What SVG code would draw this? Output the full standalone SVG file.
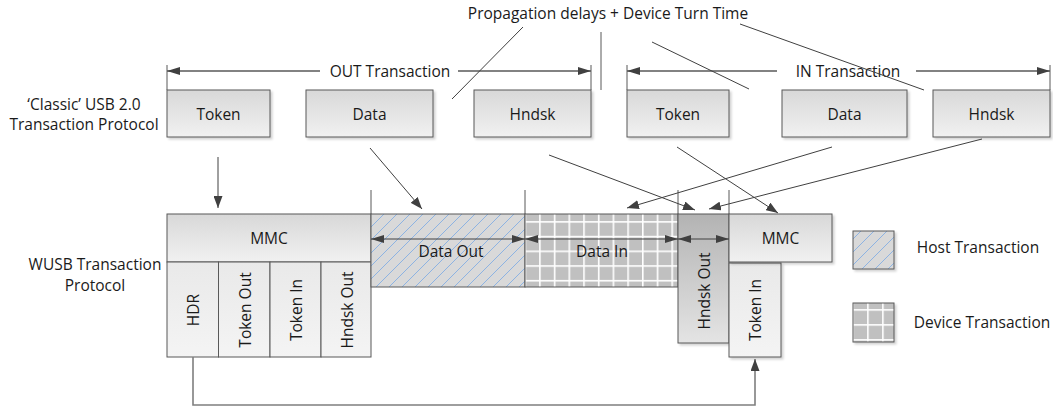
<svg xmlns="http://www.w3.org/2000/svg" width="1053" height="409" viewBox="0 0 1053 409">
<style>
  text { font-family: "Open Sans", "Liberation Sans", sans-serif; font-size: 15.5px; fill: #1a1a1a; }
  .c { text-anchor: middle; dominant-baseline: central; }
  .box { stroke: #595959; stroke-width: 1; }
  .top { fill: url(#gTop); }
  .cell { fill: url(#gCell); }
  .ln { stroke: #404040; stroke-width: 1; fill: none; }
  .dim { stroke: #595959; stroke-width: 1.3; fill: none; }
  .tick { stroke: #595959; stroke-width: 1; fill: none; }
  .arr { marker-end: url(#ah); }
  .dbl { marker-start: url(#ahs); marker-end: url(#ahs); }
</style>
<defs>
  <linearGradient id="gTop" x1="0" y1="0" x2="0" y2="1">
    <stop offset="0" stop-color="#d8d8d8"/>
    <stop offset="1" stop-color="#f1f1f1"/>
  </linearGradient>
  <linearGradient id="gCell" x1="0" y1="0" x2="0" y2="1">
    <stop offset="0" stop-color="#e9e9e9"/>
    <stop offset="1" stop-color="#f4f4f4"/>
  </linearGradient>
  <linearGradient id="gDark" x1="0" y1="0" x2="0" y2="1">
    <stop offset="0" stop-color="#b3b3b3"/>
    <stop offset="1" stop-color="#e4e4e4"/>
  </linearGradient>
  <pattern id="hatch" patternUnits="userSpaceOnUse" width="13" height="13">
    <rect width="13" height="13" fill="#d9d9d9"/>
    <path d="M0,13 L13,0 M-3,3 L3,-3 M10,16 L16,10" stroke="#8db3e2" stroke-width="1"/>
  </pattern>
  <pattern id="grid" patternUnits="userSpaceOnUse" x="539.1" y="221.1" width="14.7" height="14.7">
    <rect width="14.7" height="14.7" fill="#c0c0c0"/>
    <rect x="0" y="0" width="1.6" height="14.7" fill="#ffffff"/>
    <rect x="0" y="0" width="14.7" height="1.6" fill="#ffffff"/>
  </pattern>
  <pattern id="grid2" patternUnits="userSpaceOnUse" x="867.1" y="309.1" width="15" height="15">
    <rect width="15" height="15" fill="#c0c0c0"/>
    <rect x="0" y="0" width="1.6" height="15" fill="#ffffff"/>
    <rect x="0" y="0" width="15" height="1.6" fill="#ffffff"/>
  </pattern>
  <marker id="ah" markerUnits="userSpaceOnUse" markerWidth="12" markerHeight="9" viewBox="0 0 12 9" refX="12" refY="4.5" orient="auto">
    <path d="M0,0 L12,4.5 L0,9 z" fill="#404040"/>
  </marker>
  <marker id="ahs" markerUnits="userSpaceOnUse" markerWidth="13" markerHeight="8" viewBox="0 0 13 8" refX="13" refY="4" orient="auto-start-reverse">
    <path d="M0,0 L13,4 L0,8 z" fill="#404040"/>
  </marker>
  <filter id="sh" x="-10%" y="-10%" width="130%" height="130%">
    <feDropShadow dx="2" dy="2" stdDeviation="0.8" flood-color="#000" flood-opacity="0.18"/>
  </filter>
</defs>

<!-- labels -->
<g id="label-classic">
  <text class="c" x="84" y="104">‘Classic’ USB 2.0</text>
  <text class="c" x="84" y="124">Transaction Protocol</text>
</g>
<g id="label-wusb">
  <text class="c" x="95" y="264">WUSB Transaction</text>
  <text class="c" x="95" y="285">Protocol</text>
</g>
<g id="label-prop">
  <text class="c" x="608" y="13">Propagation delays + Device Turn Time</text>
</g>

<!-- top row -->
<g id="out-token"><rect class="box top" filter="url(#sh)" x="167" y="90" width="103" height="47"/><text class="c" x="218.5" y="113.5">Token</text></g>
<g id="out-data"><rect class="box top" filter="url(#sh)" x="306" y="90" width="127" height="47"/><text class="c" x="369.5" y="113.5">Data</text></g>
<g id="out-hndsk"><rect class="box top" filter="url(#sh)" x="474" y="90" width="117" height="47"/><text class="c" x="532.5" y="113.5">Hndsk</text></g>
<g id="in-token"><rect class="box top" filter="url(#sh)" x="627" y="90" width="102" height="47"/><text class="c" x="678" y="113.5">Token</text></g>
<g id="in-data"><rect class="box top" filter="url(#sh)" x="782" y="90" width="125" height="47"/><text class="c" x="844.5" y="113.5">Data</text></g>
<g id="in-hndsk"><rect class="box top" filter="url(#sh)" x="933" y="90" width="117" height="47"/><text class="c" x="991.5" y="113.5">Hndsk</text></g>

<!-- transaction spans -->
<g id="out-transaction">
  <path class="tick" d="M167,65 V90 M591,65 V90"/>
  <path class="dim" d="M320,71 H167" marker-end="url(#ahs)"/>
  <path class="dim" d="M458,71 H591" marker-end="url(#ahs)"/>
  <text class="c" x="390" y="71">OUT Transaction</text>
</g>
<g id="in-transaction">
  <path class="tick" d="M627,65 V90 M1050,65 V90"/>
  <path class="dim" d="M777,71 H627" marker-end="url(#ahs)"/>
  <path class="dim" d="M916,71 H1050" marker-end="url(#ahs)"/>
  <text class="c" x="848" y="71">IN Transaction</text>
</g>

<!-- bottom row -->
<g id="mmc-left">
  <rect class="box top" filter="url(#sh)" x="167" y="214" width="204" height="48"/>
  <text class="c" x="269" y="238">MMC</text>
</g>
<g id="hdr"><rect class="box cell" x="167" y="262" width="51.5" height="95"/><text class="c" transform="translate(193,310) rotate(-90)">HDR</text></g>
<g id="token-out"><rect class="box cell" x="218.5" y="262" width="51.5" height="95"/><text class="c" transform="translate(244.5,310) rotate(-90)">Token Out</text></g>
<g id="token-in-left"><rect class="box cell" x="270" y="262" width="51" height="95"/><text class="c" transform="translate(296,310) rotate(-90)">Token In</text></g>
<g id="hndsk-out-left"><rect class="box cell" x="321" y="262" width="50" height="95"/><text class="c" transform="translate(346.5,310) rotate(-90)">Hndsk Out</text></g>

<g id="data-out">
  <rect class="box" x="371" y="214" width="154" height="73" fill="url(#hatch)"/>
  <text class="c" x="451" y="251">Data Out</text>
</g>
<g id="data-in">
  <rect class="box" x="525" y="214" width="153" height="73" fill="url(#grid)"/>
  <text class="c" x="602" y="251">Data In</text>
</g>
<g id="hndsk-out">
  <rect class="box" filter="url(#sh)" x="678" y="214" width="51" height="129" fill="url(#gDark)"/>
  <text class="c" transform="translate(703.5,291) rotate(-90)">Hndsk Out</text>
</g>
<g id="token-in-right">
  <rect class="box cell" filter="url(#sh)" x="729" y="263" width="52" height="94"/>
  <text class="c" transform="translate(755,310) rotate(-90)">Token In</text>
</g>
<g id="mmc-right">
  <rect class="box top" filter="url(#sh)" x="729" y="214" width="103" height="48"/>
  <text class="c" x="780.5" y="238">MMC</text>
</g>

<!-- legend -->
<g id="legend-host">
  <rect class="box" filter="url(#sh)" x="853" y="231" width="41" height="38" fill="url(#hatch)"/>
  <text class="c" x="978" y="247">Host Transaction</text>
</g>
<g id="legend-device">
  <rect class="box" filter="url(#sh)" x="853" y="303" width="41" height="39" fill="url(#grid2)"/>
  <text class="c" x="982" y="322">Device Transaction</text>
</g>

<!-- connectors -->
<g id="connectors">
  <path class="tick" d="M601,32 V90"/>
  <path class="tick" d="M371,190 V214 M525,190 V214 M678,190 V214 M729,190 V214"/>
  <path class="ln" d="M523,27 L452,99"/>
  <path class="ln" d="M652,42 L749,89"/>
  <path class="ln" d="M740,24 L924,90"/>
  <path class="ln arr" d="M218,157 V208"/>
  <path class="ln arr" d="M370,148 L422,209"/>
  <path class="ln arr" d="M549,155 L695,210"/>
  <path class="ln arr" d="M677,147 L778,213"/>
  <path class="ln arr" d="M832,147 L627,208"/>
  <path class="ln arr" d="M982,139 L709,209"/>
  <path class="ln dbl" d="M371,239 H525"/>
  <path class="ln dbl" d="M525,239 H678"/>
  <path class="ln dbl" d="M678,239 H729"/>
  <path d="M193,357 V405 H755 V359" fill="none" stroke="#7f7f7f" stroke-width="1.6" marker-end="url(#ah)"/>
</g>
</svg>
